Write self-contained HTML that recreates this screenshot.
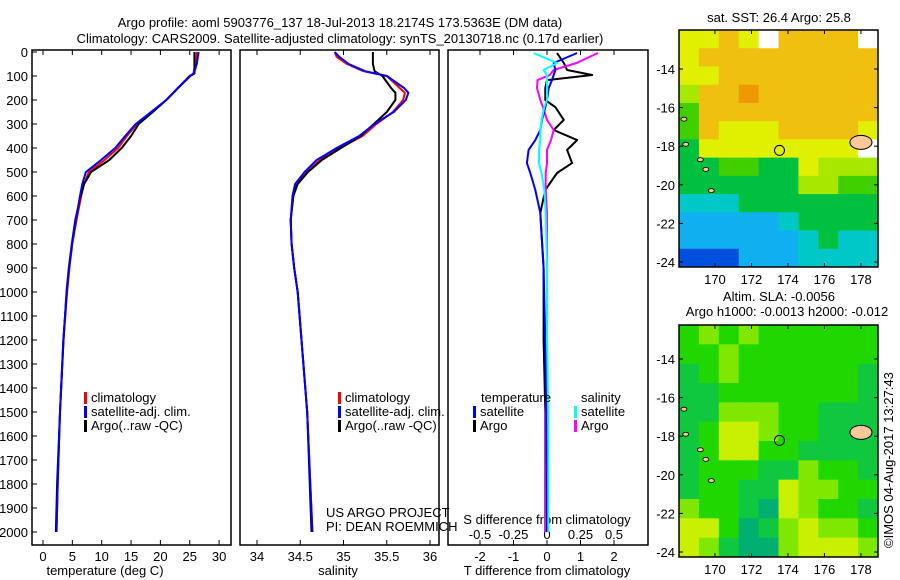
<!DOCTYPE html>
<html><head><meta charset="utf-8"><style>
body{margin:0;background:#fff}
svg{display:block}
text{font-family:"Liberation Sans",sans-serif;font-size:13px;fill:#000}
</style></head><body>
<svg id="c" width="900" height="580" xmlns="http://www.w3.org/2000/svg">
<text x="340" y="27" text-anchor="middle" font-size="14">Argo profile: aoml 5903776_137 18-Jul-2013 18.2174S 173.5363E (DM data)</text>
<text x="340" y="43" text-anchor="middle" font-size="14">Climatology: CARS2009. Satellite-adjusted climatology: synTS_20130718.nc (0.17d earlier)</text>
<text x="105" y="575" text-anchor="middle">temperature (deg C)</text>
<text x="338" y="575" text-anchor="middle">salinity</text>
<text x="547" y="575" text-anchor="middle">T difference from climatology</text>
<text x="547" y="524" text-anchor="middle">S difference from climatology</text>
<text x="326" y="517">US ARGO PROJECT</text>
<text x="326" y="531">PI: DEAN ROEMMICH</text>
<text x="779" y="22" text-anchor="middle">sat. SST: 26.4 Argo: 25.8</text>
<text x="779" y="301" text-anchor="middle">Altim. SLA: -0.0056</text>
<text x="787" y="316" text-anchor="middle">Argo h1000: -0.0013 h2000: -0.012</text>
<text transform="translate(893,548) rotate(-90)">©IMOS 04-Aug-2017 13:27:43</text>
</svg>
<script>
// ---- data ----
const depthT = [0,50,90,100,150,200,250,300,350,400,450,500,550,600,700,800,900,1000,1200,1500,1800,2000];
const tempClim = [26.2,26.0,25.6,25.0,23.0,21.0,18.5,16.0,14.3,12.8,10.5,7.8,7.0,6.5,5.7,5.0,4.5,4.1,3.5,2.9,2.5,2.3];
const tempSat  = [26.5,26.2,25.7,25.1,23.0,21.0,18.4,15.8,14.0,12.3,9.9,7.3,6.7,6.3,5.6,4.95,4.45,4.05,3.45,2.9,2.5,2.3];
const tempArgo = [25.8,25.8,25.8,25.0,23.0,21.0,18.7,16.3,15.0,13.4,11.3,8.2,7.0,6.4,5.5,4.9,4.4,4.0,3.5,2.9,2.4,2.2];
const depthS = [0,20,50,80,100,150,170,200,250,300,350,400,450,500,550,600,700,800,900,1000,1500,2000];
const salClim = [34.9,34.92,35.04,35.23,35.5,35.65,35.71,35.69,35.57,35.38,35.22,34.96,34.73,34.58,34.46,34.42,34.39,34.4,34.43,34.47,34.58,34.64];
const salSat  = [34.9,34.95,35.06,35.25,35.5,35.7,35.75,35.72,35.58,35.36,35.18,34.92,34.69,34.55,34.44,34.41,34.39,34.4,34.43,34.47,34.58,34.64];
const salArgo = [35.34,35.34,35.34,35.36,35.45,35.55,35.6,35.6,35.5,35.35,35.2,34.97,34.75,34.59,34.47,34.42,34.39,34.4,34.43,34.47,34.58,34.63];
const depthD = [4,46,75,96,117,150,200,230,283,325,367,408,463,504,575,671,900,1200,1500,2000];
const dTargo = [0.3,0.5,0.6,1.35,0.0,-0.05,-0.05,0.25,0.5,0.2,0.9,0.6,0.75,0.3,-0.05,-0.2,-0.1,-0.1,-0.05,-0.05];
const dTsat  = [0.9,0.2,0.25,0.2,0.15,0.05,0.0,-0.05,-0.15,-0.2,-0.35,-0.55,-0.6,-0.5,-0.35,-0.2,-0.1,-0.05,-0.02,0.0];
const dSargo = [0.38,0.22,0.05,0.02,-0.07,-0.075,-0.05,-0.03,0.0,0.05,0.03,0.0,0.0,-0.01,-0.01,0.0,0.0,0.0,-0.01,-0.01];
const dSsat  = [-0.1,0.075,-0.025,0.0,0.0,0.0,0.0,-0.02,-0.04,-0.05,-0.05,-0.06,-0.06,-0.04,-0.02,-0.01,0.0,0.0,0.01,0.01];
const depthTicks = [0,100,200,300,400,500,600,700,800,900,1000,1100,1200,1300,1400,1500,1600,1700,1800,1900,2000];
const tTicks = [0,5,10,15,20,25,30];
const sTicks = [34,34.5,35,35.5,36];
const sTickLabels = ["34","34.5","35","35.5","36"];
const dtTicks = [-2,-1,0,1,2];
const dsTicks = [-0.5,-0.25,0,0.25,0.5];
const dsTickLabels = ["-0.5","-0.25","0","0.25","0.5"];
const lonTicks = [170,172,174,176,178];
const latTicks = [-14,-16,-18,-20,-22,-24];
const argoLon = 173.5363, argoLat = -18.2174;
const sstGrid = [
"7787W8888W","7888888888","7788888888","6889888888","5888888888","5877788887",
"477777777W","4455447666","4444446655","3334444444","2222234444","2222223433","1112223333"];
const slaGrid = [
"5656555555","5565555555","4565555554","4455555554","4466655444","4577655444",
"4577554444","4555446554","4554476655","6554376554","7753467665","7643367776"];
// ---- helpers ----
const svg = document.getElementById('c');
const NS = 'http://www.w3.org/2000/svg';
function mk(tag, attrs, txt){const e=document.createElementNS(NS,tag);for(const k in attrs)e.setAttribute(k,attrs[k]);if(txt!==undefined)e.textContent=txt;svg.appendChild(e);return e;}
const Y0=52, YS=0.24, BOXT=50, BOXB=545;
const yD = d => Y0 + d*YS;
function xT(v){return 43 + v*5.87;}
function xS(v){return 257 + (v-34)*86.5;}
function xDT(v){return 547 + v*33.5;}
function xDS(v){return 547 + v*134;}
function line(xs, ds, fx, color, name){
  const pts = xs.map((v,i)=>fx(v).toFixed(1)+','+yD(ds[i]).toFixed(1)).join(' ');
  const p = mk('polyline',{points:pts,fill:'none',stroke:color,'stroke-width':2,'stroke-linejoin':'round'});
  
  
}
function box(x0,x1,y0,y1,name){
  const r = mk('rect',{x:x0,y:y0,width:x1-x0,height:y1-y0,fill:'none',stroke:'#000','stroke-width':1.5});
  
  
}
function xticks(ticks, labels, fx, ytop, ybot, labelY, name){
  ticks.forEach((t,i)=>{
    const x=fx(t);
    mk('line',{x1:x,y1:ybot,x2:x,y2:ybot-5,stroke:'#000'});
    mk('line',{x1:x,y1:ytop,x2:x,y2:ytop+5,stroke:'#000'});
    if(labelY){const tx=mk('text',{x:x,y:labelY,'text-anchor':'middle'},labels[i]);
    
    }
  });
}
box(32,231,BOXT,BOXB,'temperature-panel');
box(240,439,BOXT,BOXB,'salinity-panel');
box(448,648,BOXT,BOXB,'difference-panel');
depthTicks.forEach(d=>{
  const y=yD(d);
  mk('line',{x1:32,y1:y,x2:37,y2:y,stroke:'#000'});
  const tx=mk('text',{x:28,y:y+5,'text-anchor':'end'},String(d));
  
  
});
xticks(tTicks,tTicks.map(String),xT,BOXT,BOXB,561,'temperature-tick-label');
xticks(sTicks,sTickLabels,xS,BOXT,BOXB,561,'salinity-tick-label');
xticks(dtTicks,dtTicks.map(String),xDT,BOXT,BOXB,561,'t-diff-tick-label');
dsTicks.forEach((t,i)=>{const tx=mk('text',{x:xDS(t),y:539,'text-anchor':'middle'},dsTickLabels[i]);
  
  });
line(tempClim,depthT,xT,'#ff0000','temperature-climatology-line');
line(tempArgo,depthT,xT,'#000000','temperature-argo-line');
line(tempSat,depthT,xT,'#0000ff','temperature-satellite-line');
line(salClim,depthS,xS,'#ff0000','salinity-climatology-line');
line(salArgo,depthS,xS,'#000000','salinity-argo-line');
line(salSat,depthS,xS,'#0000ff','salinity-satellite-line');
line(dTargo,depthD,xDT,'#000000','t-diff-argo-line');
line(dSargo,depthD,xDS,'#ff00ff','s-diff-argo-line');
line(dTsat,depthD,xDT,'#0000ff','t-diff-satellite-line');
line(dSsat,depthD,xDS,'#00ffff','s-diff-satellite-line');
function leg(x,y,color,label,name){
  mk('rect',{x:x,y:y-10,width:3,height:12,fill:color});
  const t=mk('text',{x:x+7,y:y},label);
  
  
}
leg(84,402,'#ff0000','climatology','legend-climatology');
leg(84,416,'#0000ff','satellite-adj. clim.','legend-satellite');
leg(84,430,'#000000','Argo(..raw -QC)','legend-argo');
leg(338,402,'#ff0000','climatology','legend-climatology-2');
leg(338,416,'#0000ff','satellite-adj. clim.','legend-satellite-2');
leg(338,430,'#000000','Argo(..raw -QC)','legend-argo-2');
mk('text',{x:481,y:402},'temperature');
mk('text',{x:581,y:402},'salinity');
leg(473,416,'#0000ff','satellite','legend-t-satellite');
leg(473,430,'#000000','Argo','legend-t-argo');
leg(574,416,'#00ffff','satellite','legend-s-satellite');
leg(574,430,'#ff00ff','Argo','legend-s-argo');
// ---- maps ----
const MX0=679, MX1=878, lonL=168.03, lonPx=18.25, latPx=19.3;
const sstCol={0:'#000090',1:'#0050e0',2:'#10b0f0',3:'#00c8c8',4:'#00c040',5:'#40d000',6:'#a8e800',7:'#e0f000',8:'#f0c010',9:'#f09800',W:'#ffffff'};
const slaCol={3:'#00b070',4:'#10c840',5:'#20d800',6:'#80e800',7:'#c8f000'};
function map(y0,y1,lat14y,grid,cols,name,labelLon){
  const rows=grid.length, nc=grid[0].length, cw=(MX1-MX0)/nc, rh=(y1-y0)/rows;
  const g=document.createElementNS(NS,'g');svg.appendChild(g);
  grid.forEach((row,r)=>{[...row].forEach((c,ci)=>{
    const e=document.createElementNS(NS,'rect');
    e.setAttribute('x',MX0+ci*cw);e.setAttribute('y',y0+r*rh);e.setAttribute('width',cw+0.5);e.setAttribute('height',rh+0.5);e.setAttribute('fill',cols[c]);g.appendChild(e);
  });});
  const fy = lat => lat14y + (-14-lat)*latPx;
  const fx = lon => MX0 + (lon-lonL)*lonPx;
  mk('ellipse',{cx:fx(178.0),cy:fy(-17.8),rx:11,ry:7,fill:'#f8c898',stroke:'#000','stroke-width':1});
  [[168.4,-17.9],[169.2,-18.7],[169.5,-19.2],[169.8,-20.3],[168.3,-16.6]].forEach(p=>mk('ellipse',{cx:fx(p[0]),cy:fy(p[1]),rx:3,ry:2,fill:'#f8c898',stroke:'#000','stroke-width':0.8}));
  box(MX0,MX1,y0,y1,name+'-frame');
  latTicks.forEach(l=>{const y=fy(l);mk('line',{x1:MX0,y1:y,x2:MX0+4,y2:y,stroke:'#000'});mk('line',{x1:MX1,y1:y,x2:MX1-4,y2:y,stroke:'#000'});
    const t=mk('text',{x:MX0-4,y:y+5,'text-anchor':'end'},String(l));
    
    });
  lonTicks.forEach(l=>{const x=fx(l);mk('line',{x1:x,y1:y0,x2:x,y2:y0+4,stroke:'#000'});mk('line',{x1:x,y1:y1,x2:x,y2:y1-4,stroke:'#000'});
    if(labelLon!==null){const t=mk('text',{x:x,y:labelLon,'text-anchor':'middle'},String(l));
    
    }});
  const c=mk('circle',{cx:fx(argoLon),cy:fy(argoLat),r:5,fill:'none',stroke:'#000','stroke-width':1});
  
  
}
map(30,267,69,sstGrid,sstCol,'sst-map',284);
map(325,557,359,slaGrid,slaCol,'sla-map',574);
</script>
</body></html>
